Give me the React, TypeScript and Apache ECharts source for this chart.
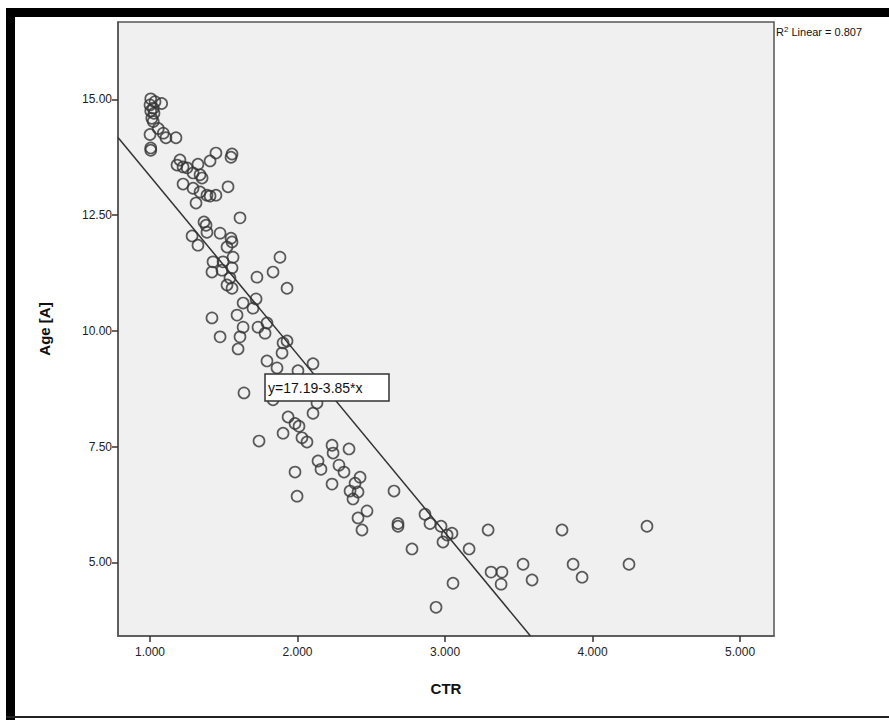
import React, { useEffect, useRef } from "react";
import * as echarts from "echarts";

// CTR (x) values of the observations
const ctrValues: number[] = [
  1.005, 1.034, 1.079, 1.0, 1.022, 1.005, 1.027, 1.012, 1.022, 1.056, 1.0, 1.09, 1.108, 1.176, 1.005, 1.005,
  1.203, 1.183, 1.224, 1.251, 1.325, 1.407, 1.447, 1.556, 1.549, 1.292, 1.339, 1.353, 1.224, 1.292, 1.339,
  1.386, 1.407, 1.447, 1.529, 1.312, 1.61, 1.366, 1.38, 1.285, 1.386, 1.475, 1.549,
  1.325, 1.556, 1.522, 1.563, 1.427, 1.495, 1.42, 1.488, 1.556, 1.542, 1.522, 1.556, 1.881, 1.834, 1.725,
  1.929, 1.631, 1.719, 1.698, 1.42, 1.59, 1.631, 1.732, 1.793, 1.78, 1.475, 1.61, 1.597, 1.929, 1.902,
  1.895, 1.793, 1.861, 2.003, 2.105, 1.637, 1.834, 1.936, 2.105, 2.132, 1.902, 1.739,
  1.983, 2.01, 2.03, 2.064, 2.234, 2.241, 2.349, 2.139, 2.159, 2.281, 2.315, 2.424, 2.39, 2.234, 1.983,
  1.997, 2.356, 2.41, 2.376, 2.471, 2.41, 2.437, 2.654, 2.681, 2.681, 2.776, 2.864, 2.898, 2.973, 3.047,
  3.014, 2.986, 3.163, 3.292, 3.054, 2.939,
  3.793, 4.369, 3.312, 3.386, 3.38, 3.529, 3.59, 3.868, 3.929, 4.247,
];

// Age [A] (y) values of the observations
const ageValues: number[] = [
  15.01, 14.95, 14.91, 14.88, 14.81, 14.75, 14.7, 14.59, 14.52, 14.37, 14.24, 14.27, 14.17, 14.17, 13.95, 13.9,
  13.69, 13.58, 13.54, 13.52, 13.6, 13.67, 13.84, 13.82, 13.75, 13.41, 13.37, 13.3, 13.17, 13.08, 13.0,
  12.93, 12.91, 12.93, 13.11, 12.76, 12.44, 12.35, 12.28, 12.05, 12.13, 12.11, 12.0,
  11.85, 11.92, 11.81, 11.59, 11.49, 11.49, 11.27, 11.31, 11.36, 11.14, 10.99, 10.92, 11.59, 11.27, 11.16,
  10.92, 10.6, 10.69, 10.49, 10.28, 10.34, 10.08, 10.08, 10.17, 9.95, 9.87, 9.87, 9.61, 9.78, 9.74,
  9.52, 9.35, 9.2, 9.14, 9.29, 8.66, 8.51, 8.14, 8.22, 8.44, 7.79, 7.62,
  8.0, 7.94, 7.69, 7.6, 7.53, 7.36, 7.45, 7.19, 7.01, 7.1, 6.95, 6.84, 6.71, 6.69, 6.95,
  6.43, 6.54, 6.52, 6.37, 6.11, 5.96, 5.7, 6.54, 5.84, 5.78, 5.29, 6.04, 5.84, 5.78, 5.63,
  5.59, 5.44, 5.29, 5.7, 4.55, 4.03,
  5.7, 5.78, 4.79, 4.79, 4.53, 4.96, 4.62, 4.96, 4.68, 4.96,
];

// Linear fit: y = intercept + slope * x
const fitIntercept = 17.19;
const fitSlope = -3.85;
const rSquared = 0.807;

// Axis ranges and tick labels
const xRange: [number, number] = [0.783, 5.23];
const yRange: [number, number] = [3.41, 16.67];
const xTicks: number[] = [1, 2, 3, 4, 5];
const yTicks: number[] = [5, 7.5, 10, 12.5, 15];

export default function App() {
  const ref = useRef<HTMLDivElement>(null);

  useEffect(() => {
    document.body.style.margin = "0";
    if (!ref.current) return;
    const chart = echarts.init(ref.current, undefined, { renderer: "svg" });

    const points = ctrValues.map((x, i) => [x, ageValues[i]]);
    const fitAt = (x: number) => fitIntercept + fitSlope * x;
    const xEnd = (yRange[0] - fitIntercept) / fitSlope;
    const fitLine = [
      [xRange[0], fitAt(xRange[0])],
      [xEnd, yRange[0]],
    ];

    const font = "'Liberation Sans', Arial, sans-serif";

    chart.setOption({
      animation: false,
      backgroundColor: "#ffffff",
      grid: {
        left: 118,
        top: 22,
        width: 656,
        height: 614,
        show: true,
        backgroundColor: "#f0f0f0",
        borderColor: "#555555",
        borderWidth: 1.5,
      },
      xAxis: {
        type: "value",
        min: xRange[0],
        max: xRange[1],
        name: "CTR",
        nameLocation: "middle",
        nameGap: 45,
        nameTextStyle: { fontFamily: font, fontSize: 15, fontWeight: "bold", color: "#111" },
        axisLine: { show: true, onZero: false, lineStyle: { color: "#555", width: 1.5 } },
        axisTick: { show: true, length: 6, customValues: xTicks, lineStyle: { color: "#333", width: 1.5 } },
        axisLabel: {
          customValues: xTicks,
          formatter: (v: number) => v.toFixed(3),
          fontFamily: font,
          fontSize: 12,
          color: "#222",
          margin: 10,
        },
        splitLine: { show: false },
      },
      yAxis: {
        type: "value",
        min: yRange[0],
        max: yRange[1],
        name: "Age [A]",
        nameLocation: "middle",
        nameGap: 66,
        nameRotate: 90,
        nameTextStyle: { fontFamily: font, fontSize: 15, fontWeight: "bold", color: "#111" },
        axisLine: { show: true, onZero: false, lineStyle: { color: "#555", width: 1.5 } },
        axisTick: { show: true, length: 6, customValues: yTicks, lineStyle: { color: "#333", width: 1.5 } },
        axisLabel: {
          customValues: yTicks,
          formatter: (v: number) => v.toFixed(2),
          fontFamily: font,
          fontSize: 12,
          color: "#222",
          margin: 6,
        },
        splitLine: { show: false },
      },
      series: [
        {
          type: "scatter",
          data: points,
          symbol: "circle",
          symbolSize: 11,
          itemStyle: { color: "transparent", borderColor: "#333333", borderWidth: 1.7 },
          z: 3,
        },
        {
          type: "line",
          data: fitLine,
          symbol: "none",
          lineStyle: { color: "#333", width: 1.5 },
          z: 4,
        },
      ],
      graphic: [
        { type: "rect", shape: { x: 6, y: 8, width: 883, height: 9 }, style: { fill: "#000" } },
        { type: "rect", shape: { x: 6, y: 8, width: 9, height: 712 }, style: { fill: "#000" } },
        { type: "rect", shape: { x: 6, y: 716, width: 883, height: 2 }, style: { fill: "#222" } },
        {
          type: "rect",
          shape: { x: 265, y: 374, width: 124, height: 27 },
          style: { fill: "#ffffff", stroke: "#333", lineWidth: 1.5 },
          z: 10,
        },
        {
          type: "text",
          x: 268,
          y: 388,
          z: 11,
          style: {
            text: `y=${fitIntercept.toFixed(2)}${fitSlope.toFixed(2)}*x`,
            font: `14px ${font}`,
            fill: "#111",
            verticalAlign: "middle",
          },
        },
        {
          type: "text",
          x: 776,
          y: 25,
          z: 11,
          style: {
            text: `{a|R}{b|2}{a| Linear = ${rSquared.toFixed(3)}}`,
            rich: {
              a: { fontFamily: font, fontSize: 11, fill: "#111", verticalAlign: "bottom" },
              b: { fontFamily: font, fontSize: 8, fill: "#111", verticalAlign: "top", padding: [0, 0, 4, 0] },
            },
          },
        },
      ],
    });

    return () => chart.dispose();
  }, []);

  return <div ref={ref} style={{ width: 889, height: 720 }} />;
}
